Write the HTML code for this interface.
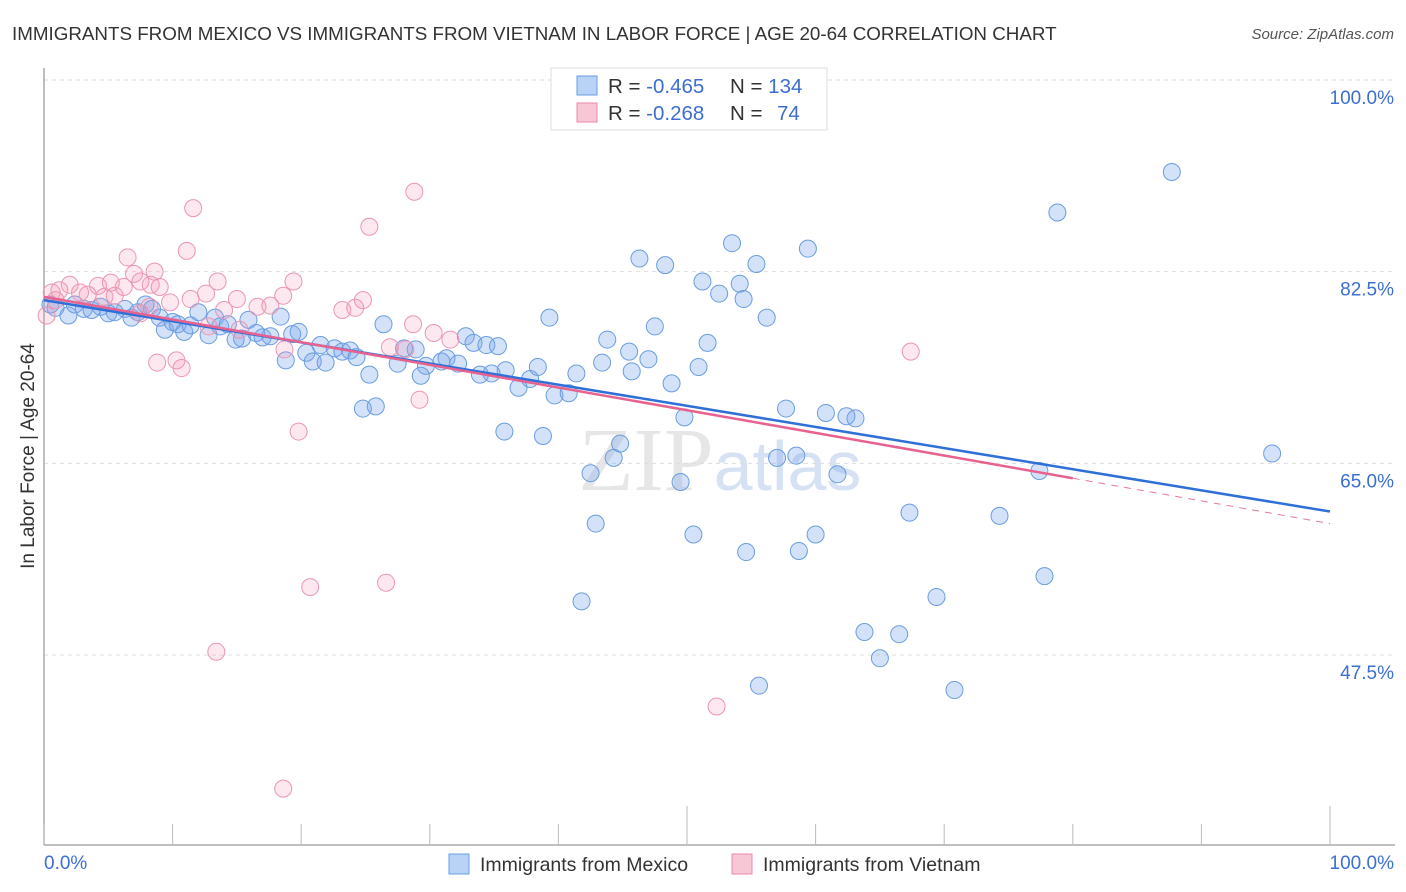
<!DOCTYPE html>
<html><head><meta charset="utf-8"><style>
body{margin:0;background:#fff;font-family:"Liberation Sans",sans-serif;}
svg{display:block}
</style></head><body>
<svg id="chart" width="1406" height="892" viewBox="0 0 1406 892">
<text x="12" y="40" font-size="18.8" fill="#333">IMMIGRANTS FROM MEXICO VS IMMIGRANTS FROM VIETNAM IN LABOR FORCE | AGE 20-64 CORRELATION CHART</text>
<text x="1394" y="39" font-size="15" fill="#555" font-style="italic" text-anchor="end">Source: ZipAtlas.com</text>
<text x="720" y="490" font-size="90" fill="#e6e6e6" text-anchor="middle" font-family="Liberation Serif, serif">ZIP<tspan fill="#d6e2f4" font-family="Liberation Sans, sans-serif" font-size="70">atlas</tspan></text>
<g id="grid"></g>
<g id="axes"></g>
<g id="pts"></g>
<g id="lines"></g>
<text transform="translate(34,456) rotate(-90)" font-size="19" fill="#333" text-anchor="middle">In Labor Force | Age 20-64</text>
<text x="44" y="869" font-size="19" fill="#3b6fd1">0.0%</text>
<text x="1394" y="869" font-size="19" fill="#3b6fd1" text-anchor="end">100.0%</text>
<g>
<rect x="449" y="854" width="20" height="20" fill="#b9d3f6" stroke="#6a9de0"/>
<text x="480" y="871" font-size="19.5" fill="#333">Immigrants from Mexico</text>
<rect x="732" y="854" width="20" height="20" fill="#f8c7d6" stroke="#e88aa8"/>
<text x="763" y="871" font-size="19.5" fill="#333">Immigrants from Vietnam</text>
</g>
<g>
<rect x="551" y="68" width="276" height="62" fill="#fff" stroke="#ddd"/>
<rect x="577" y="76" width="20" height="19" fill="#b9d3f6" stroke="#6a9de0"/>
<text x="608" y="93" font-size="20.5" fill="#333">R = <tspan fill="#3b6fd1">-0.465</tspan><tspan x="730">N = </tspan><tspan fill="#3b6fd1">134</tspan></text>
<rect x="577" y="103" width="20" height="19" fill="#f8c7d6" stroke="#e88aa8"/>
<text x="608" y="120" font-size="20.5" fill="#333">R = <tspan fill="#3b6fd1">-0.268</tspan><tspan x="730">N = </tspan><tspan x="777" fill="#3b6fd1">74</tspan></text>
</g>
</svg>
<script>
const yTicks=[100,82.5,65,47.5];
const yTickLabels=["100.0%","82.5%","65.0%","47.5%"];
const xTicks=[0,10,20,30,40,50,60,70,80,90,100];
const mexicoX=[87.7,78.8,53.5,59.4,46.3,48.3,55.4,51.2,54.1,52.5,54.4,56.2,39.3,47.5,26.4,43.8,51.6,45.5,47.0,43.4,45.7,50.9,48.8,41.4,39.7,40.8,36.9,37.8,35.9,38.4,34.8,33.9,32.2,31.3,30.9,29.7,29.3,28.0,28.9,27.5,25.3,24.8,25.8,32.8,33.4,34.4,35.3,49.8,57.7,60.8,62.4,63.1,35.8,38.8,44.8,44.3,42.5,49.5,57.0,58.5,61.7,77.4,95.5,42.9,50.5,54.6,58.7,60.0,67.3,74.3,41.8,69.4,77.8,63.8,66.5,65.0,55.6,70.8,0.5,0.9,1.9,2.4,3.1,3.7,4.4,5.0,5.5,6.3,6.8,7.3,7.9,8.4,9.0,9.4,10.0,10.4,10.9,11.4,12.0,12.8,13.3,13.7,14.3,14.9,15.4,15.9,16.5,17.0,17.6,18.4,18.8,19.3,19.8,20.4,20.9,21.5,21.9,22.6,23.2,23.8,24.3];
const mexicoY=[91.6,87.9,85.1,84.6,83.7,83.1,83.2,81.6,81.4,80.5,80.0,78.3,78.3,77.5,77.7,76.3,76.0,75.2,74.5,74.2,73.4,73.8,72.3,73.2,71.2,71.4,71.9,72.7,73.5,73.8,73.2,73.1,74.1,74.6,74.3,73.9,73.0,75.5,75.4,74.1,73.1,70.0,70.2,76.6,76.0,75.8,75.7,69.2,70.0,69.6,69.3,69.1,67.9,67.5,66.8,65.5,64.1,63.3,65.5,65.7,64.0,64.3,65.9,59.5,58.5,56.9,57.0,58.5,60.5,60.2,52.4,52.8,54.7,49.6,49.4,47.2,44.7,44.3,79.5,79.2,78.5,79.5,79.1,79.0,79.3,78.7,78.8,79.1,78.3,78.8,79.5,79.1,78.3,77.2,77.9,77.7,77.0,77.6,78.8,76.7,78.3,77.5,77.7,76.3,76.4,78.1,76.9,76.5,76.6,78.4,74.4,76.8,77.0,75.1,74.3,75.8,74.2,75.5,75.2,75.3,74.7];
const vietnamX=[28.8,11.6,25.3,6.5,11.1,8.6,7.0,19.4,13.5,5.2,7.5,8.3,9.0,2.0,4.2,1.2,0.6,2.8,3.4,4.7,5.5,6.2,12.6,15.0,11.4,9.8,8.2,16.6,17.6,18.6,14.0,24.8,23.2,24.2,28.7,30.3,31.6,26.9,28.1,10.3,8.8,10.7,12.8,18.7,29.2,19.8,20.7,26.6,13.4,52.3,18.6,67.4,0.2,0.9,7.5,15.2];
const vietnamY=[89.8,88.3,86.6,83.8,84.4,82.5,82.3,81.6,81.6,81.5,81.6,81.3,81.1,81.3,81.2,80.8,80.6,80.6,80.4,80.2,80.3,81.1,80.5,80.0,80.0,79.7,79.3,79.3,79.4,80.3,79.0,79.9,79.0,79.2,77.7,76.9,76.3,75.6,75.4,74.4,74.2,73.7,77.5,75.4,70.8,67.9,53.7,54.1,47.8,42.8,35.3,75.2,78.5,79.9,78.7,77.2];
const mexicoTrend=[79.9,60.6];
const vietnamTrend=[80.2,59.5];
const vietnamSolidEnd=80;

const NS="http://www.w3.org/2000/svg";
const X0=44,X1=1330,YT=80,YB=655;
function sx(v){return X0+v/100*(X1-X0);}
function sy(v){return YT+(100-v)/17.5*((YB-YT)/3);}
function mk(tag,attrs,parent){const e=document.createElementNS(NS,tag);for(const k in attrs)e.setAttribute(k,attrs[k]);parent.appendChild(e);return e;}
const grid=document.getElementById('grid'),axes=document.getElementById('axes'),pts=document.getElementById('pts'),lines=document.getElementById('lines');
yTicks.forEach((t,i)=>{
  const l=mk('line',{x1:X0,x2:1394,y1:sy(t),y2:sy(t),stroke:'#ddd','stroke-dasharray':'4,4'},grid);
  
  
  const tx=mk('text',{x:1394,y:sy(t)+24,'font-size':19,fill:'#3b6fd1','text-anchor':'end'},grid);
  tx.textContent=yTickLabels[i];
  
  
});
const ya=mk('line',{x1:X0,x2:X0,y1:68,y2:845,stroke:'#aaa','stroke-width':1.5},axes);


const xa=mk('line',{x1:X0,x2:1395,y1:845,y2:845,stroke:'#aaa','stroke-width':1.5},axes);


xTicks.forEach(t=>{
  const major=(t===50||t===100);
  const l=mk('line',{x1:sx(t),x2:sx(t),y1:major?806:824,y2:845,stroke:'#bbb'},axes);
  
  
});
mexicoX.forEach((x,i)=>{
  const c=mk('circle',{cx:sx(x),cy:sy(mexicoY[i]),r:8.5,fill:'rgba(120,165,235,0.32)',stroke:'#6a9de0','stroke-width':1},pts);
  
  
});
vietnamX.forEach((x,i)=>{
  const c=mk('circle',{cx:sx(x),cy:sy(vietnamY[i]),r:8.5,fill:'rgba(245,150,180,0.22)',stroke:'#eb96b2','stroke-width':1},pts);
  
  
});
function vt(x){return vietnamTrend[0]+(vietnamTrend[1]-vietnamTrend[0])*x/100;}
const pd=mk('line',{x1:sx(vietnamSolidEnd),y1:sy(vt(vietnamSolidEnd)),x2:sx(100),y2:sy(vietnamTrend[1]),stroke:'#e8789c','stroke-width':1,'stroke-dasharray':'7,6'},lines);


const bl=mk('line',{x1:sx(0),y1:sy(mexicoTrend[0]),x2:sx(100),y2:sy(mexicoTrend[1]),stroke:'#2f6fd8','stroke-width':2.5},lines);


const pl=mk('line',{x1:sx(0),y1:sy(vietnamTrend[0]),x2:sx(vietnamSolidEnd),y2:sy(vt(vietnamSolidEnd)),stroke:'#e8628f','stroke-width':2.5},lines);


</script>
</body></html>
